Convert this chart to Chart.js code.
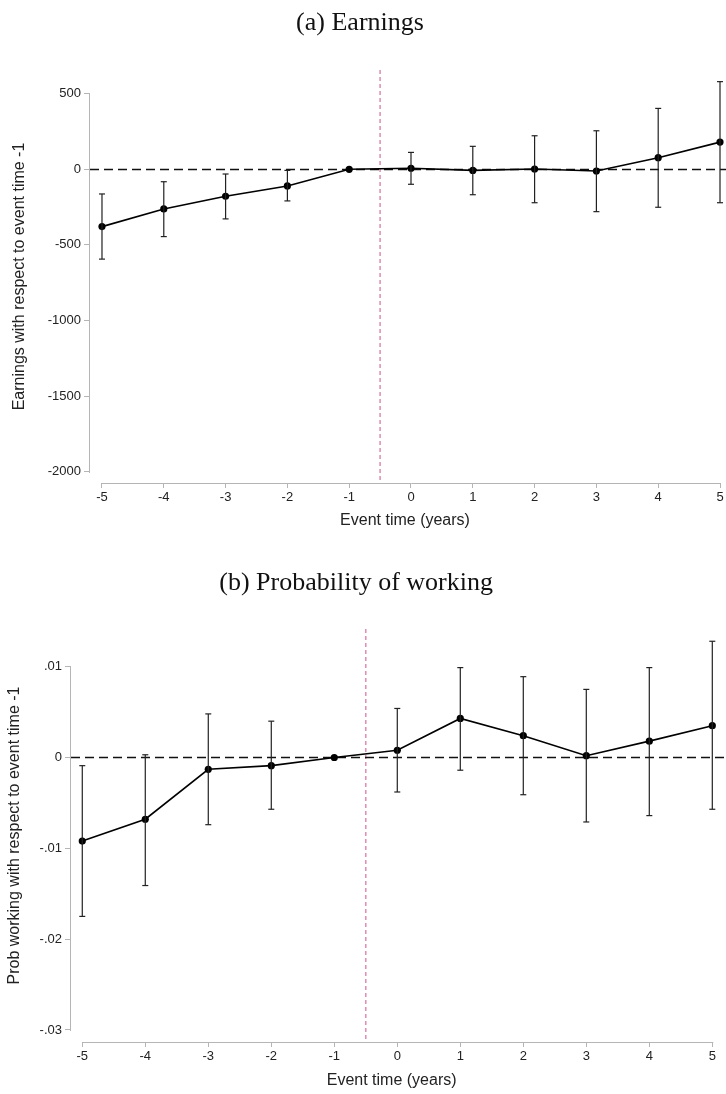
<!DOCTYPE html>
<html>
<head>
<meta charset="utf-8">
<script src="https://cdn.jsdelivr.net/npm/chart.js@4"></script>
<style>
  html, body { margin: 0; padding: 0; background: #fff; overflow: hidden; }
  canvas { display: block; }
</style>
</head>
<body>
<canvas id="earnChart" width="726" height="550"></canvas>
<canvas id="probChart" width="726" height="544"></canvas>
<script>
// event time in years, relative to the event
const years = [-5, -4, -3, -2, -1, 0, 1, 2, 3, 4, 5];

// (a) earnings relative to event time -1, with 95% bands
const earnEst = [-379, -262, -178, -110, 0, 7, -7, 2, -11, 77, 180];
const earnHi  = [-163, -82, -31, -7, null, 112, 152, 222, 255, 403, 580];
const earnLo  = [-594, -445, -328, -209, null, -99, -168, -221, -280, -251, -221];
const earnTicks = [500, 0, -500, -1000, -1500, -2000];
const earnTickLabels = ['500', '0', '-500', '-1000', '-1500', '-2000'];

// (b) probability of working relative to event time -1
const probEst = [-0.0092, -0.0068, -0.0013, -0.0009, 0, 0.0008, 0.0043, 0.0024, 0.0002, 0.0018, 0.0035];
const probHi  = [-0.0009, 0.0003, 0.0048, 0.0040, null, 0.0054, 0.0099, 0.0089, 0.0075, 0.0099, 0.0128];
const probLo  = [-0.0175, -0.0141, -0.0074, -0.0057, null, -0.0038, -0.0014, -0.0041, -0.0071, -0.0064, -0.0057];
const probTicks = [0.01, 0, -0.01, -0.02, -0.03];
const probTickLabels = ['.01', '0', '-.01', '-.02', '-.03'];

const eventLine = -0.5;
const axisGrey = '#b5b5b5';
const sans = 'Liberation Sans';

// zero line, event line and the detached Stata-style axes
const refLines = {
  id: 'refLines',
  beforeDatasetsDraw(chart, args, opts) {
    const { ctx, chartArea: a, scales: { x, y } } = chart;
    ctx.save();

    // axes: only span the first and last ticks
    ctx.strokeStyle = axisGrey;
    ctx.lineWidth = 1;
    ctx.setLineDash([]);
    const ax = Math.round(a.left) - 0.5;
    ctx.beginPath();
    ctx.moveTo(ax, Math.round(y.getPixelForValue(opts.yTop)));
    ctx.lineTo(ax, Math.round(y.getPixelForValue(opts.yBottom)) + 1);
    ctx.stroke();
    const ay = Math.round(a.bottom) + 0.5;
    ctx.beginPath();
    ctx.moveTo(x.getPixelForValue(years[0]), ay);
    ctx.lineTo(x.getPixelForValue(years[years.length - 1]) + 1, ay);
    ctx.stroke();

    // event line
    const ex = x.getPixelForValue(eventLine);
    ctx.strokeStyle = '#dd8db3';
    ctx.lineWidth = 1.5;
    ctx.setLineDash([4, 3]);
    ctx.beginPath();
    ctx.moveTo(ex, a.top);
    ctx.lineTo(ex, a.bottom);
    ctx.stroke();

    // zero line
    const zy = Math.round(y.getPixelForValue(0)) + 0.5;
    ctx.strokeStyle = '#111';
    ctx.lineWidth = 1.3;
    ctx.setLineDash([9, 5]);
    ctx.beginPath();
    ctx.moveTo(a.left, zy);
    ctx.lineTo(chart.width, zy);
    ctx.stroke();
    ctx.restore();
  }
};

function whiskers(lo, hi) {
  const pts = [];
  years.forEach((t, i) => {
    if (lo[i] === null) return;
    pts.push({ x: t, y: lo[i] }, { x: t, y: hi[i] }, { x: t, y: null });
  });
  return pts;
}

function caps(lo, hi) {
  const pts = [];
  years.forEach((t, i) => {
    if (lo[i] === null) return;
    pts.push({ x: t, y: lo[i] }, { x: t, y: hi[i] });
  });
  return pts;
}

function makeChart(id, p) {
  return new Chart(document.getElementById(id), {
    type: 'line',
    data: {
      datasets: [
        {
          data: whiskers(p.lo, p.hi),
          borderColor: '#222',
          borderWidth: 1.2,
          pointRadius: 0,
          spanGaps: false,
          clip: false
        },
        {
          data: caps(p.lo, p.hi),
          showLine: false,
          pointStyle: 'line',
          pointRadius: 3,
          borderColor: '#222',
          borderWidth: 1.2,
          clip: false
        },
        {
          data: years.map((t, i) => ({ x: t, y: p.est[i] })),
          borderColor: '#000',
          borderWidth: 1.6,
          backgroundColor: '#000',
          pointRadius: 3.6,
          pointBorderWidth: 0,
          tension: 0,
          clip: false
        }
      ]
    },
    options: {
      responsive: false,
      animation: false,
      layout: { padding: p.padding },
      plugins: {
        legend: { display: false },
        tooltip: { enabled: false },
        title: {
          display: true,
          text: p.title,
          color: '#111',
          font: { family: 'Liberation Serif', size: 26, weight: 'normal' },
          padding: p.titlePad
        },
        refLines: { yTop: p.ticks[0], yBottom: p.ticks[p.ticks.length - 1] }
      },
      scales: {
        x: {
          type: 'linear',
          min: p.xMin,
          max: 5,
          afterBuildTicks: s => { s.ticks = years.map(v => ({ value: v })); },
          afterFit: s => { s.height = p.xHeight; },
          border: { display: false },
          grid: { drawOnChartArea: false, tickLength: 5, color: axisGrey },
          ticks: {
            color: '#222',
            font: { family: sans, size: 13 },
            padding: 2,
            maxRotation: 0,
            autoSkip: false,
            callback: v => String(v)
          },
          title: {
            display: true,
            text: 'Event time (years)',
            color: '#222',
            font: { family: sans, size: 16 },
            padding: { top: 4, bottom: 4 }
          }
        },
        y: {
          min: p.yMin,
          max: p.yMax,
          afterBuildTicks: s => { s.ticks = p.ticks.map(v => ({ value: v })); },
          afterFit: s => { s.width = p.yWidth; },
          border: { display: false },
          grid: { drawOnChartArea: false, tickLength: 6, color: axisGrey },
          ticks: {
            color: '#222',
            font: { family: sans, size: 13 },
            padding: 3,
            callback: v => p.tickLabels[p.ticks.indexOf(v)]
          },
          title: {
            display: true,
            text: p.yTitle,
            color: '#222',
            font: { family: sans, size: 16 },
            padding: { top: p.yTitlePad, bottom: 0 }
          }
        }
      }
    },
    plugins: [refLines]
  });
}

makeChart('earnChart', {
  title: '(a) Earnings',
  yTitle: 'Earnings with respect to event time -1',
  est: earnEst, hi: earnHi, lo: earnLo,
  ticks: earnTicks, tickLabels: earnTickLabels,
  xMin: -5.194, yMin: -2075, yMax: 657,
  yWidth: 90, xHeight: 51, yTitlePad: 10,
  titlePad: { top: 7.4, bottom: 31.4 },
  padding: { left: 0, right: 6, top: 0, bottom: 16 }
});

makeChart('probChart', {
  title: '(b) Probability of working',
  yTitle: 'Prob working with respect to event time -1',
  est: probEst, hi: probHi, lo: probLo,
  ticks: probTicks, tickLabels: probTickLabels,
  xMin: -5.179, yMin: -0.03133, yMax: 0.01415,
  yWidth: 71, xHeight: 52, yTitlePad: 5,
  titlePad: { top: 17.4, bottom: 30.4 },
  padding: { left: 0, right: 13.7, top: 0, bottom: 0 }
});
</script>
</body>
</html>
